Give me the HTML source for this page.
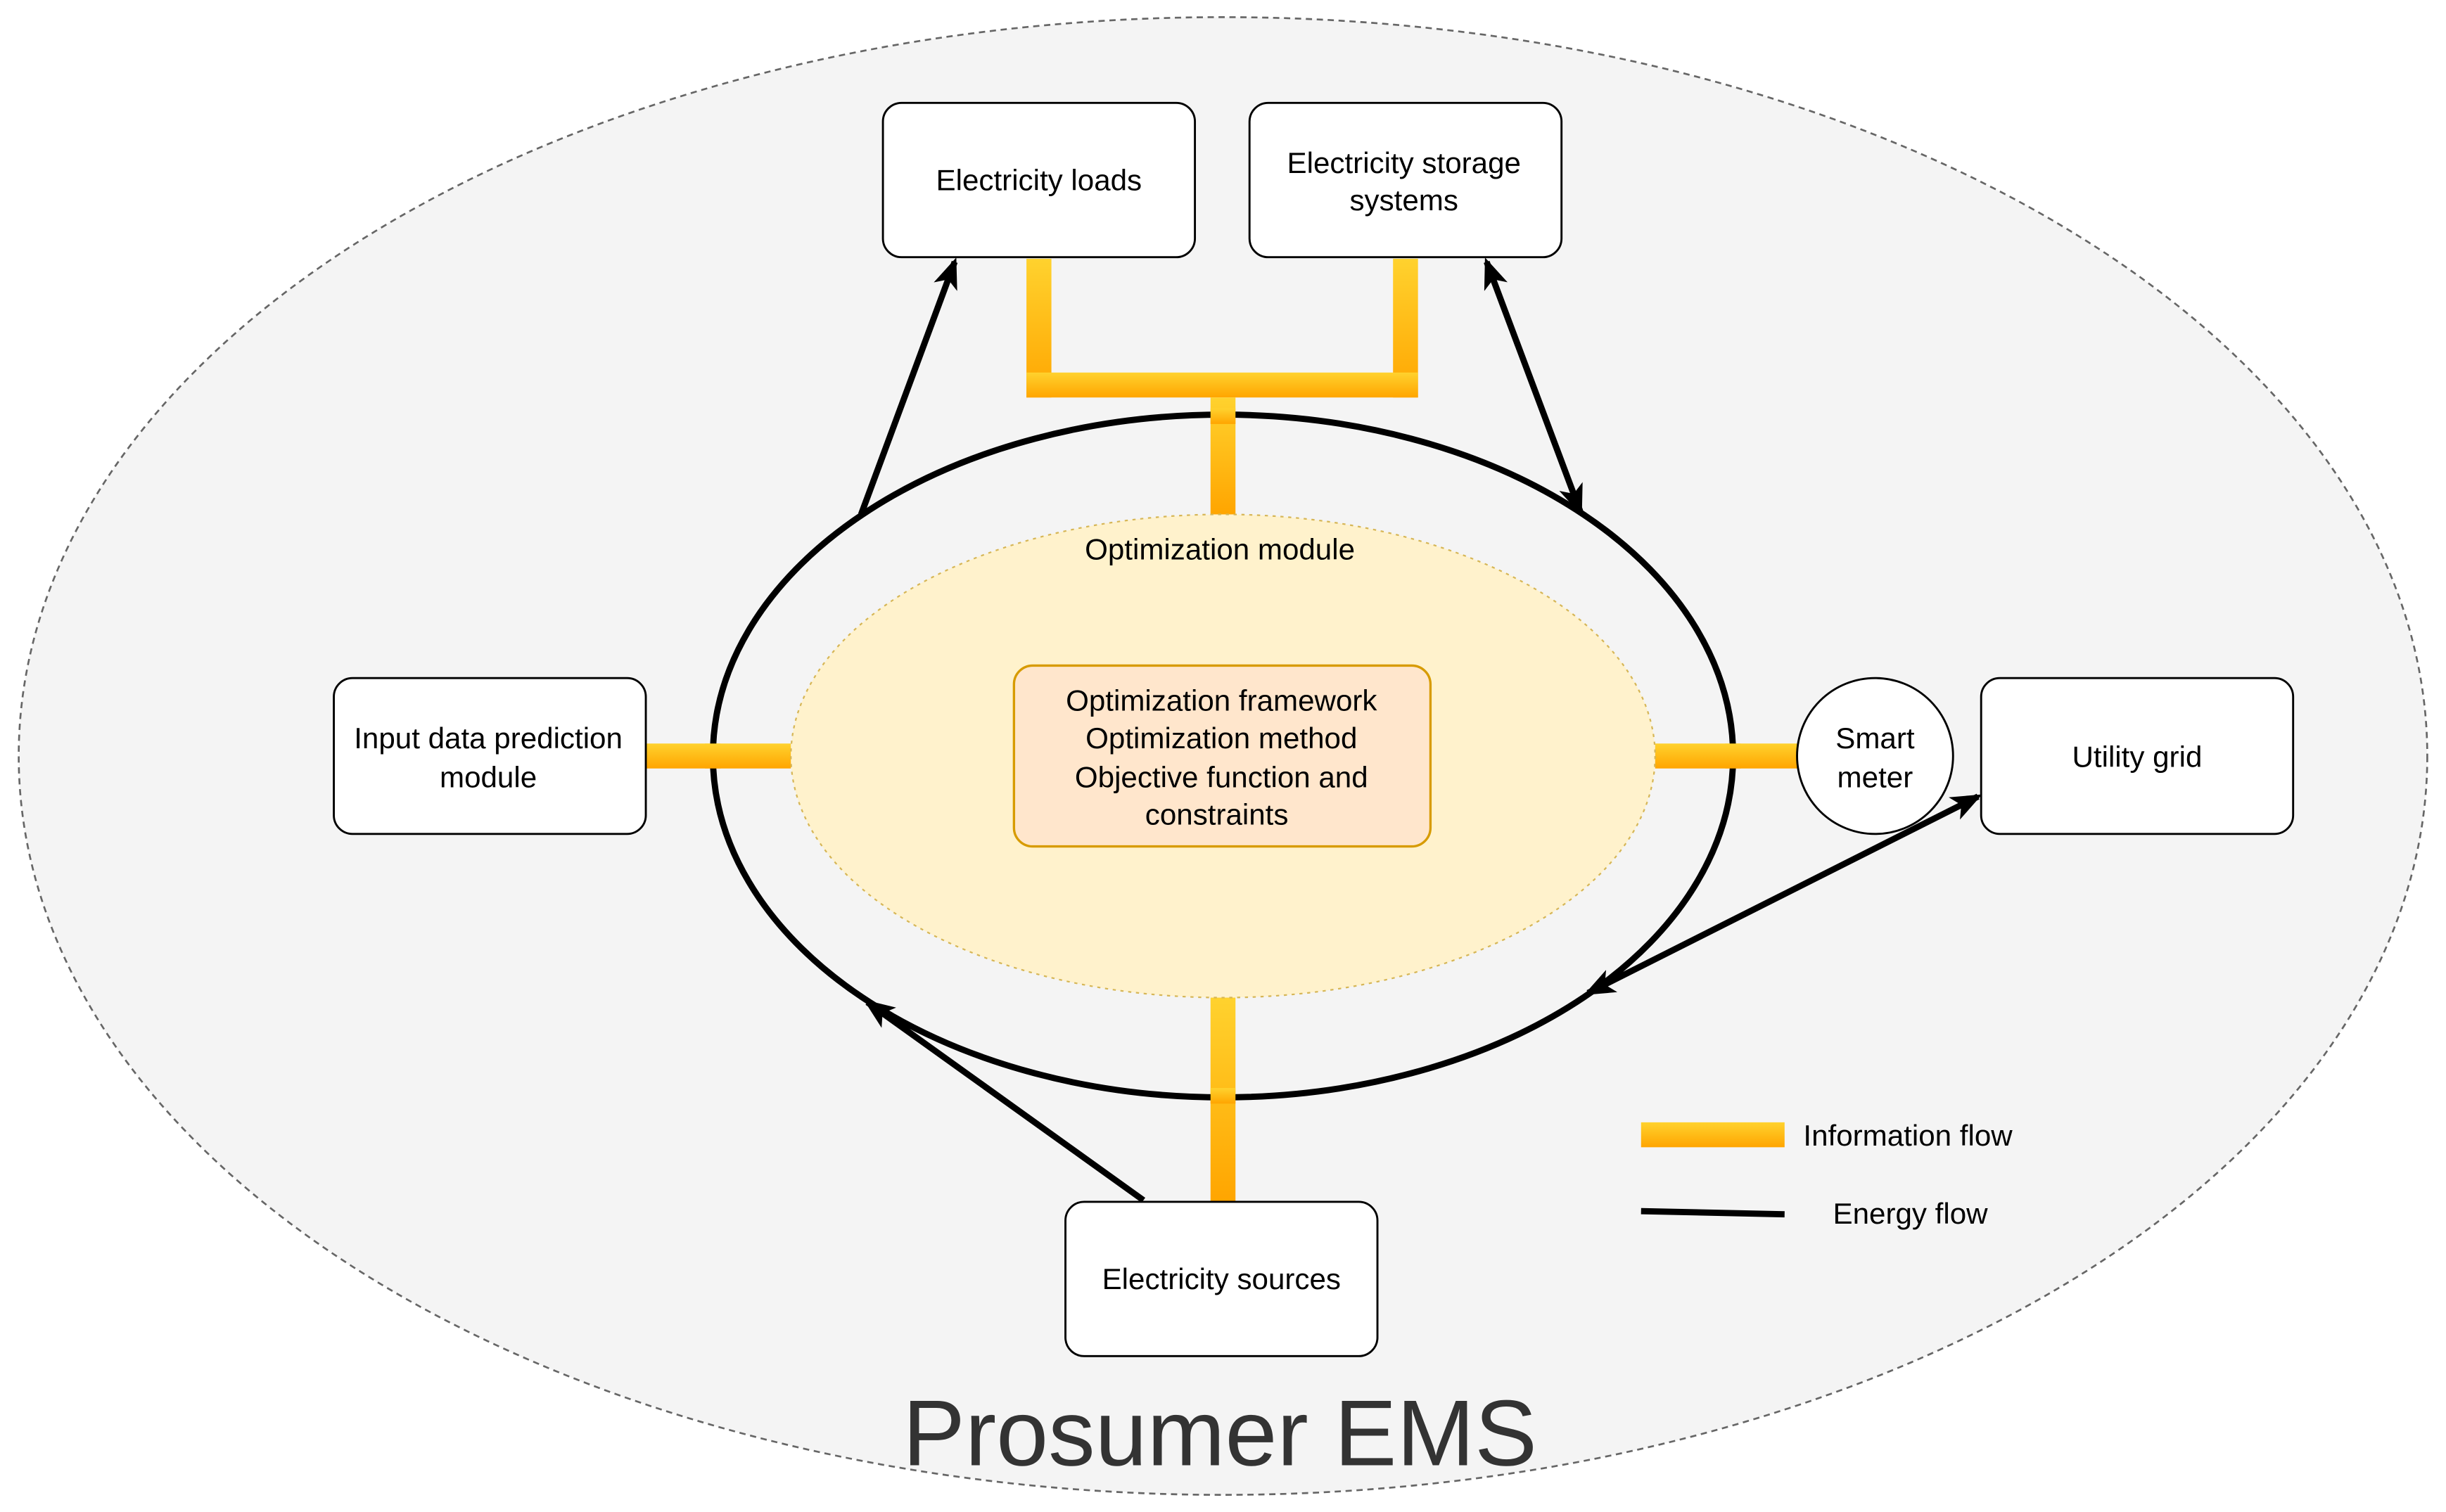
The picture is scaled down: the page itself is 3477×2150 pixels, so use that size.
<!DOCTYPE html>
<html><head><meta charset="utf-8"><style>
html,body{margin:0;padding:0;background:#fff;}
svg{display:block;}
text{font-family:"Liberation Sans",Arial,sans-serif;fill:#000;}
</style></head><body>
<svg width="3477" height="2150" viewBox="0 0 1568 970" preserveAspectRatio="none" xmlns="http://www.w3.org/2000/svg">
<defs>
<linearGradient id="gv" x1="0" y1="0" x2="0" y2="1"><stop offset="0" stop-color="#ffd22e"/><stop offset="1" stop-color="#ffa500"/></linearGradient>
<marker id="ah" markerWidth="20" markerHeight="16" refX="17" refY="8" orient="auto" markerUnits="userSpaceOnUse" viewBox="0 0 20 16"><path d="M0,0 L20,8 L0,16 L5,8 Z" fill="#000"/></marker>
<marker id="ahs" markerWidth="20" markerHeight="16" refX="3" refY="8" orient="auto" markerUnits="userSpaceOnUse" viewBox="0 0 20 16"><path d="M20,0 L0,8 L20,16 L15,8 Z" fill="#000"/></marker>
</defs>
<ellipse cx="784" cy="485" rx="772" ry="474" fill="#f4f4f4" stroke="#666" stroke-width="1.2" stroke-dasharray="4,3"/>
<rect x="658" y="166" width="16" height="89" fill="url(#gv)"/>
<rect x="893" y="166" width="16" height="89" fill="url(#gv)"/>
<rect x="658" y="239" width="251" height="16" fill="url(#gv)"/>
<rect x="776" y="255" width="16" height="75" fill="url(#gv)"/>
<rect x="776" y="640" width="16" height="131" fill="url(#gv)"/>
<rect x="414" y="477" width="93" height="16" fill="url(#gv)"/>
<rect x="1061" y="477" width="92" height="16" fill="url(#gv)"/>
<ellipse cx="784" cy="485" rx="327" ry="219" fill="none" stroke="#000" stroke-width="4"/>
<rect x="776" y="262" width="16" height="10" fill="url(#gv)"/>
<rect x="776" y="698" width="16" height="10" fill="url(#gv)"/>
<rect x="452" y="477" width="10" height="16" fill="url(#gv)"/>
<rect x="1106" y="477" width="10" height="16" fill="url(#gv)"/>
<ellipse cx="784" cy="485" rx="277" ry="155" fill="#fff2cc" stroke="#d6b656" stroke-width="1" stroke-dasharray="2,3"/>
<text x="782" y="359" font-size="19" text-anchor="middle">Optimization module</text>
<rect x="650" y="427" width="267" height="116" rx="12" fill="#ffe6cc" stroke="#d79b00" stroke-width="1.5"/>
<text font-size="19" text-anchor="middle"><tspan x="783" y="456">Optimization framework</tspan><tspan x="783" y="480">Optimization method</tspan><tspan x="783" y="505">Objective function and</tspan><tspan x="780" y="529">constraints</tspan></text>
<g fill="#fff" stroke="#000" stroke-width="1.3">
<rect x="566" y="66" width="200" height="99" rx="12"/>
<rect x="801" y="66" width="200" height="99" rx="12"/>
<rect x="214" y="435" width="200" height="100" rx="12"/>
<rect x="1270" y="435" width="200" height="100" rx="12"/>
<rect x="683" y="771" width="200" height="99" rx="12"/>
<circle cx="1202" cy="485" r="50"/>
</g>
<g font-size="19" text-anchor="middle">
<text x="666" y="122">Electricity loads</text>
<text x="900" y="111">Electricity storage</text><text x="900" y="135">systems</text>
<text x="313" y="480">Input data prediction</text><text x="313" y="505">module</text>
<text x="1370" y="492">Utility grid</text>
<text x="783" y="827">Electricity sources</text>
<text x="1202" y="480">Smart</text><text x="1202" y="505">meter</text>
</g>
<g stroke="#000" stroke-width="4" fill="none">
<line x1="552" y1="330" x2="612" y2="168" marker-end="url(#ah)"/>
<line x1="953" y1="168" x2="1013" y2="328" marker-end="url(#ah)" marker-start="url(#ahs)"/>
<line x1="1018" y1="637" x2="1268" y2="511" marker-end="url(#ah)" marker-start="url(#ahs)"/>
<line x1="733" y1="770" x2="556" y2="643" marker-end="url(#ah)"/>
</g>
<rect x="1052" y="720" width="92" height="16" fill="url(#gv)"/>
<text x="1156" y="735" font-size="19">Information flow</text>
<line x1="1052" y1="777" x2="1144" y2="779" stroke="#000" stroke-width="4"/>
<text x="1175" y="785" font-size="19">Energy flow</text>
<text x="782" y="940" font-size="60" text-anchor="middle" style="fill:#333">Prosumer EMS</text>
</svg>
</body></html>
